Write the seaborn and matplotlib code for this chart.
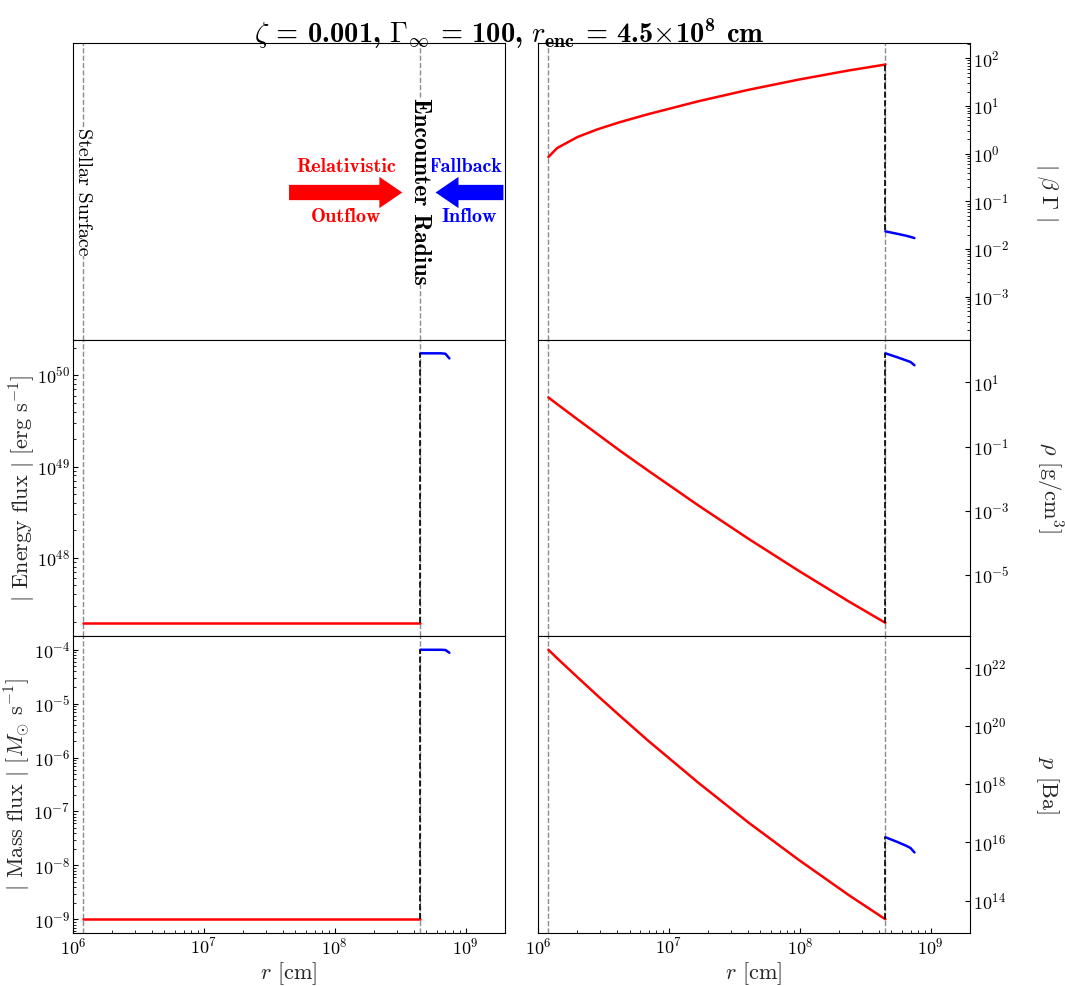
import matplotlib
matplotlib.use("Agg")
import matplotlib.pyplot as plt
import matplotlib.transforms as mtransforms
import seaborn as sns

# --- radii -----------------------------------------------------------------
r_star = 1.2e6          # stellar surface [cm]
r_enc = 4.5e8           # encounter radius [cm]
x_limits = (1e6, 2e9)

# --- relativistic outflow (inside the encounter radius) ----------------------
r_out = [1.2e6, 1.4e6, 2.0e6, 2.84e6, 4.2e6, 6.9e6, 1.67e7, 4.05e7, 9.8e7,
         2.38e8, 4.5e8]
betagamma_out = [0.85, 1.31, 2.23, 3.23, 4.56, 6.7, 12.5, 21.8, 35.7, 55.7, 73.8]
rho_out = [3.4, 2.1, 0.71, 0.247, 0.076, 0.0182, 1.5e-3, 1.36e-4, 1.37e-5,
           1.5e-6, 3.3e-7]
p_out = [4.2e22, 2.15e22, 4.8e21, 1.12e21, 2.3e20, 3.2e19, 1.14e18, 4.8e16,
         2.5e15, 1.5e14, 2.26e13]
edot_out = [1.95e47, 1.95e47, 1.95e47, 1.95e47, 1.95e47, 1.95e47, 1.95e47,
            1.95e47, 1.95e47, 1.95e47, 1.95e47]
mdot_out = [1e-9, 1e-9, 1e-9, 1e-9, 1e-9, 1e-9, 1e-9, 1e-9, 1e-9, 1e-9, 1e-9]

# --- fallback inflow (outside the encounter radius) --------------------------
r_in = [4.5e8, 5.5e8, 6.5e8, 7.0e8, 7.5e8]
betagamma_in = [0.0235, 0.021, 0.019, 0.018, 0.017]
rho_in = [80.0, 61.0, 48.0, 43.0, 34.0]
p_in = [1.5e16, 1.05e16, 7.6e15, 6.4e15, 4.5e15]
edot_in = [1.74e50, 1.74e50, 1.74e50, 1.72e50, 1.53e50]
mdot_in = [1.0e-4, 1.0e-4, 1.0e-4, 0.99e-4, 0.88e-4]

title = (r"$\zeta$ = 0.001, $\Gamma_{\infty}$ = 100, "
         r"$r_{\mathdefault{enc}}$ = 4.5$\times$10$^{\mathdefault{8}}$ cm")

sns.set_theme(style="ticks")
plt.rcParams.update({
    "font.family": ["cmr10", "DejaVu Serif"],
    "mathtext.fontset": "cm",
    "axes.formatter.use_mathtext": True,
    "axes.unicode_minus": False,
    "axes.edgecolor": "black",
    "axes.linewidth": 0.8,
    "text.color": "black",
    "xtick.color": "black",
    "ytick.color": "black",
    "xtick.direction": "in",
    "ytick.direction": "in",
    "xtick.labelsize": 13,
    "ytick.labelsize": 13,
    "axes.labelsize": 16,
    "xtick.major.size": 3.5,
    "ytick.major.size": 3.5,
    "xtick.minor.size": 2.0,
    "ytick.minor.size": 2.0,
    "xtick.major.width": 0.8,
    "ytick.major.width": 0.8,
    "xtick.minor.width": 0.6,
    "ytick.minor.width": 0.6,
    "xtick.major.pad": 3.0,
    "ytick.major.pad": 2.0,
})

fig, axes = plt.subplots(3, 2, figsize=(10.65, 9.86), dpi=100, sharex=True,
                         gridspec_kw=dict(hspace=0.0, wspace=0.076))
fig.subplots_adjust(left=0.0685, right=0.911, top=0.956, bottom=0.054)

for ax in axes.flat:
    ax.set_xscale("log")
    ax.set_yscale("log")
    for rv in (r_star, r_enc):
        ax.axvline(rv, color="0.55", lw=1.0, ls="--", zorder=1)
axes[0, 0].set_xlim(*x_limits)


def draw_profile(ax, y_out, y_in):
    sns.lineplot(x=r_out, y=y_out, ax=ax, color="red", lw=1.8,
                 estimator=None, sort=False, zorder=3)
    sns.lineplot(x=r_in, y=y_in, ax=ax, color="blue", lw=1.8,
                 estimator=None, sort=False, zorder=3)
    ax.plot([r_enc, r_enc], [y_out[-1], y_in[0]], color="black",
            ls="--", lw=1.2, zorder=4)


# left column: fluxes
draw_profile(axes[1, 0], edot_out, edot_in)
draw_profile(axes[2, 0], mdot_out, mdot_in)
axes[1, 0].set_ylabel(r"$|$ Energy flux $|$ [erg s$^{-1}$]")
axes[2, 0].set_ylabel(r"$|$ Mass flux $|$ [$M_{\odot}$ s$^{-1}$]")
axes[1, 0].yaxis.set_label_coords(-0.080, 0.5)
axes[2, 0].yaxis.set_label_coords(-0.092, 0.5)

# right column: velocity, density, pressure
draw_profile(axes[0, 1], betagamma_out, betagamma_in)
draw_profile(axes[1, 1], rho_out, rho_in)
draw_profile(axes[2, 1], p_out, p_in)
axes[0, 1].set_ylim(1.25e-4, 2.05e2)
right_labels = [r"$|\ \beta\ \Gamma\ |$", r"$\rho$ [g/cm$^3$]", r"$p$ [Ba]"]
for ax, lab in zip(axes[:, 1], right_labels):
    ax.yaxis.tick_right()
    ax.yaxis.set_label_position("right")
    ax.set_ylabel(lab, rotation=270, va="bottom")
    ax.yaxis.set_label_coords(1.148, 0.5)

for ax in axes[:2, :].flat:
    ax.tick_params(axis="x", which="both", bottom=False, labelbottom=False)
for ax in axes[2, :]:
    ax.set_xlabel(r"$r$ [cm]", labelpad=2)

# top-left: schematic panel
ax = axes[0, 0]
ax.tick_params(axis="both", which="both", left=False, bottom=False,
               labelleft=False, labelbottom=False)
ax.set_ylim(1, 10)
trans = mtransforms.blended_transform_factory(ax.transData, ax.transAxes)
ax.text(r_star, 0.5, "Stellar Surface", transform=trans, rotation=-90,
        ha="center", va="center", fontsize=14.5,
        bbox=dict(fc="white", ec="none", pad=0.3), zorder=5)
ax.text(r_enc, 0.5, "Encounter Radius", transform=trans, rotation=-90,
        ha="center", va="center", fontsize=17, family="cmb10",
        bbox=dict(fc="white", ec="none", pad=0.3), zorder=5)

arrow_style = "simple,head_length=1.65,head_width=2.25,tail_width=1.1"
ax.annotate("", xy=(0.762, 0.497), xytext=(0.5, 0.497), xycoords="axes fraction",
            arrowprops=dict(arrowstyle=arrow_style, mutation_scale=10,
                            color="red", lw=0, shrinkA=0, shrinkB=0))
ax.annotate("", xy=(0.839, 0.497), xytext=(0.996, 0.497), xycoords="axes fraction",
            arrowprops=dict(arrowstyle=arrow_style, mutation_scale=10,
                            color="blue", lw=0, shrinkA=0, shrinkB=0))
label_kw = dict(transform=ax.transAxes, family="cmb10", fontsize=14.5,
                ha="center", va="center")
ax.text(0.632, 0.582, "Relativistic", color="red", **label_kw)
ax.text(0.632, 0.414, "Outflow", color="red", **label_kw)
ax.text(0.908, 0.582, "Fallback", color="blue", **label_kw)
ax.text(0.917, 0.414, "Inflow", color="blue", **label_kw)

fig.suptitle(title, fontsize=20.5, family="cmb10", x=0.478, y=0.983)

fig.savefig("out.png", dpi=100)
